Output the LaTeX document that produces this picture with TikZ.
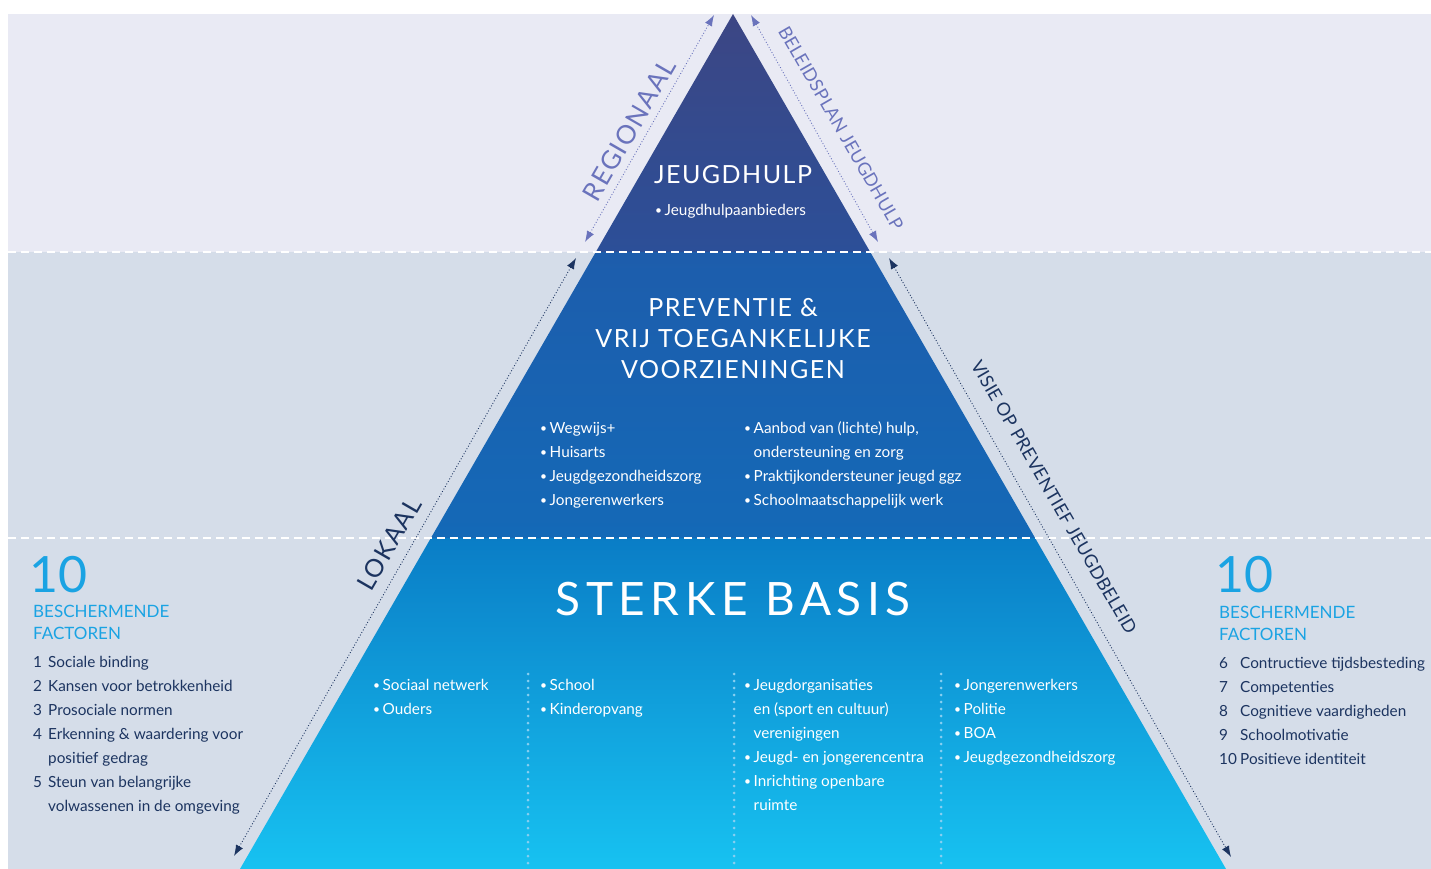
\documentclass[tikz,border=0pt]{standalone}
\usepackage{fontspec}
\setmainfont{Lato}
\newfontfamily\capsfont[LetterSpace=6]{Lato}
\newfontfamily\edgefont[LetterSpace=1.5]{Lato}
\newfontfamily\basisfont[LetterSpace=12]{Lato}
\usetikzlibrary{arrows.meta}

\definecolor{topband}{HTML}{E9EAF4}
\definecolor{lowband}{HTML}{D5DDE9}
\definecolor{jhtop}{HTML}{3C4684}
\definecolor{jhbot}{HTML}{2C4F98}
\definecolor{prtop}{HTML}{1D5DAC}
\definecolor{prbot}{HTML}{1469B7}
\definecolor{sbtop}{HTML}{0A7DC6}
\definecolor{sbbot}{HTML}{17C2F1}
\definecolor{lavender}{HTML}{6A73BC}
\definecolor{navy}{HTML}{1C3460}
\definecolor{cyanten}{HTML}{1AA3E3}
\definecolor{dotblue}{HTML}{88CFF1}

% lists as top-aligned tabulars, so that base = first line
\newcommand{\bul}{\raisebox{0.8pt}{\fontsize{12}{12}\selectfont\textbullet}}
\newcommand{\itemlist}[1]{\begin{tabular}[t]{@{}p{9.5pt}@{}l@{}}#1\end{tabular}}
\newcommand{\numlist}[2]{\begin{tabular}[t]{@{}p{#1}@{}l@{}}#2\end{tabular}}
\newcommand{\linesof}[1]{\begin{tabular}[t]{@{}c@{}}#1\end{tabular}}

\tikzset{
  listtext/.style={anchor=base west, inner sep=0pt, font=\fontsize{15.3}{24}\selectfont},
  whitetext/.style={listtext, text=white},
  navytext/.style={listtext, text=navy},
  bignum/.style={anchor=base west, inner sep=0pt, text=cyanten, font=\fontsize{50}{50}\selectfont},
  factorhead/.style={anchor=base west, inner sep=0pt, text=cyanten, font=\fontsize{17}{22}\selectfont},
  layerhead/.style={anchor=base, inner sep=0pt, text=white, font=\capsfont\fontsize{25}{31}\selectfont},
  sidearrow/.style={<->, >={Latex[length=11pt,width=8pt]}, dotted, line width=0.9pt},
  sidelabel/.style={inner sep=0pt, font=\edgefont\fontsize{18}{18}\selectfont},
  bandline/.style={white, line width=1.5pt, dash pattern=on 8pt off 5pt},
  coldots/.style={dotblue, line width=3pt, line cap=round, dash pattern=on 0pt off 7pt}
}

\begin{document}
\begin{tikzpicture}[x=1pt, y=-1pt]
  \useasboundingbox (0,0) rectangle (1431,869);

  % Bands:
  \fill[topband] (8,14) rectangle (1431,252);
  \fill[lowband] (8,252) rectangle (1431,869);

  % Pyramid:
  % left edge x = 733 - 0.5766*(y-14)
  \shade[top color=jhtop, bottom color=jhbot] (733,14) -- (595.8,252) -- (870.2,252) -- cycle;
  \shade[top color=prtop, bottom color=prbot] (595.8,252) -- (430.9,538) -- (1035.1,538) -- (870.2,252) -- cycle;
  \shade[top color=sbtop, bottom color=sbbot] (430.9,538) -- (240,869) -- (1226,869) -- (1035.1,538) -- cycle;

  % Band borders
  \draw[bandline] (8,252) -- (1431,252);
  \draw[bandline] (8,538) -- (1431,538);

  % Column separators
  \draw[coldots] (528,674) -- (528,869);
  \draw[coldots] (734,674) -- (734,869);
  \draw[coldots] (941,674) -- (941,869);

  % Side arrows:
  \coordinate (regTop) at (714,15);
  \coordinate (regBot) at (585,242);
  \coordinate (bplTop) at (751,15);
  \coordinate (bplBot) at (878,242);
  \coordinate (lokTop) at (576,258);
  \coordinate (lokBot) at (234,856);
  \coordinate (visTop) at (889,258);
  \coordinate (visBot) at (1231,857);
  \draw[sidearrow, lavender] (regBot) -- (regTop);
  \draw[sidearrow, lavender] (bplTop) -- (bplBot);
  \draw[sidearrow, navy] (lokBot) -- (lokTop);
  \draw[sidearrow, navy] (visTop) -- (visBot);

  \node[sidelabel, text=lavender, rotate=60, font=\capsfont\fontsize{26}{26}\selectfont] (regionaal) at (629,130) {REGIONAAL};
  \node[sidelabel, text=lavender, rotate=-60] (beleidsplan) at (841,128) {BELEIDSPLAN JEUGDHULP};
  \node[sidelabel, text=navy, rotate=60, font=\capsfont\fontsize{25}{25}\selectfont] (lokaal) at (389,544) {LOKAAL};
  \node[sidelabel, text=navy, rotate=-60] (visie) at (1054,497) {VISIE OP PREVENTIEF JEUGDBELEID};

  % Jeugdhulp
  \node[layerhead] (jeugdhulp) at (733,183) {JEUGDHULP};
  \node[whitetext] (aanbieders) at (655,215) {\itemlist{\bul & Jeugdhulpaanbieders}};

  % Preventie
  \node[layerhead] (preventie) at (733,316) {\linesof{PREVENTIE \&\\ VRIJ TOEGANKELIJKE\\ VOORZIENINGEN}};
  \node[whitetext] (prevLeft) at (540,433) {\itemlist{\bul & Wegwijs+\\ \bul & Huisarts\\
    \bul & Jeugdgezondheidszorg\\ \bul & Jongerenwerkers}};
  \node[whitetext] (prevRight) at (744,433) {\itemlist{\bul & Aanbod van (lichte) hulp,\\ & ondersteuning en zorg\\
    \bul & Praktijkondersteuner jeugd ggz\\ \bul & Schoolmaatschappelijk werk}};

  % Sterke basis
  \node[anchor=base, inner sep=0pt, text=white, font=\basisfont\fontsize{46}{46}\selectfont] (basis) at (733,615) {STERKE BASIS};
  \node[whitetext] (basisA) at (373,690) {\itemlist{\bul & Sociaal netwerk\\ \bul & Ouders}};
  \node[whitetext] (basisB) at (540,690) {\itemlist{\bul & School\\ \bul & Kinderopvang}};
  \node[whitetext] (basisC) at (744,690) {\itemlist{\bul & Jeugdorganisaties\\ & en (sport en cultuur)\\ & verenigingen\\
    \bul & Jeugd- en jongerencentra\\ \bul & Inrichting openbare\\ & ruimte}};
  \node[whitetext] (basisD) at (954,690) {\itemlist{\bul & Jongerenwerkers\\ \bul & Politie\\ \bul & BOA\\
    \bul & Jeugdgezondheidszorg}};

  % Factoren links
  \node[bignum] (tenL) at (29,592) {10};
  \node[factorhead] (headL) at (33,617) {\begin{tabular}[t]{@{}l@{}}BESCHERMENDE\\ FACTOREN\end{tabular}};
  \node[navytext] (factL) at (33,667) {\numlist{15pt}{1 & Sociale binding\\ 2 & Kansen voor betrokkenheid\\
    3 & Prosociale normen\\ 4 & Erkenning \& waardering voor\\ & positief gedrag\\
    5 & Steun van belangrijke\\ & volwassenen in de omgeving}};

  % Factoren rechts
  \node[bignum] (tenR) at (1215,592) {10};
  \node[factorhead] (headR) at (1219,618) {\begin{tabular}[t]{@{}l@{}}BESCHERMENDE\\ FACTOREN\end{tabular}};
  \node[navytext] (factR) at (1219,668) {\numlist{21pt}{6 & Contructieve tijdsbesteding\\ 7 & Competenties\\
    8 & Cognitieve vaardigheden\\ 9 & Schoolmotivatie\\ 10 & Positieve identiteit}};

\end{tikzpicture}
\end{document}
